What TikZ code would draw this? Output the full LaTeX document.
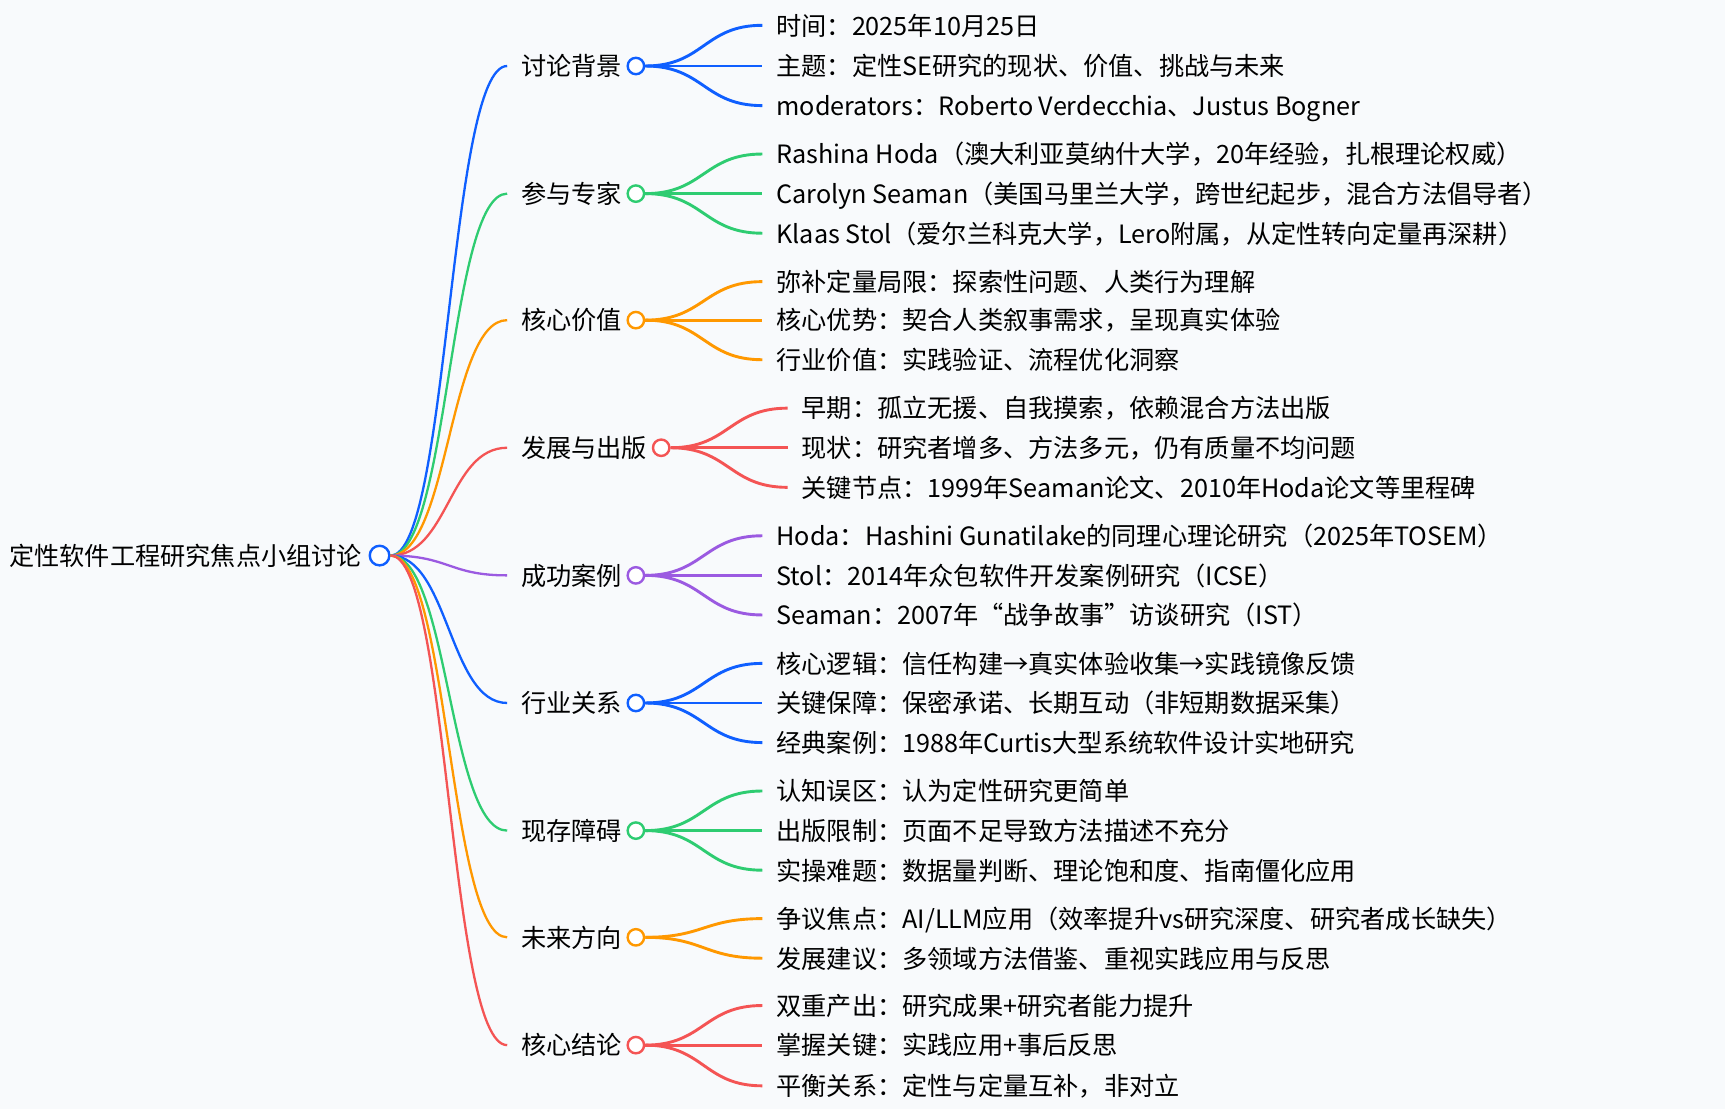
\documentclass[tikz,border=0pt]{standalone}
\usepackage{fontspec}
\setmainfont{Noto Sans CJK SC}
\usetikzlibrary{calc}

\definecolor{mblue}{RGB}{15,95,255}
\definecolor{mgreen}{RGB}{46,204,113}
\definecolor{morange}{RGB}{255,152,0}
\definecolor{mred}{RGB}{244,84,84}
\definecolor{mpurple}{RGB}{155,90,225}
\definecolor{canvas}{RGB}{248,250,252}

\begin{document}
\begin{tikzpicture}[
    x=0.55pt, y=-0.55pt,
    topic/.style={anchor=west, inner xsep=6.8pt, inner ysep=0pt, text height=1.0em, text depth=0.02em, font=\fontsize{12.6pt}{15pt}\selectfont},
    dot/.style={draw=#1, circle, fill=white, line width=1.2pt, minimum size=8.2pt, inner sep=0pt},
    rootdot/.style={draw=mblue, circle, fill=white, line width=1.2pt, minimum size=9.8pt, inner sep=0pt},
    link/.style={draw=#1, line width=1.15pt, to path={.. controls ($(\tikztostart)!.5!(\tikztotarget |- \tikztostart)$) and ($(\tikztotarget)!.5!(\tikztostart |- \tikztotarget)$) .. (\tikztotarget)}},
    sublink/.style={link=#1, line width=1.45pt}
]

% Canvas
\fill[canvas] (0,0) rectangle (1568,1008);
\useasboundingbox (0,0) rectangle (1568,1008);

% Root
\node[topic, inner xsep=0pt] (root) at (8,505) {定性软件工程研究焦点小组讨论};
\node[rootdot] (rootdot) at (345,505) {};

% Main topics
\node[topic] (bg) at (461,60) {讨论背景};
\node[topic] (exp) at (461,176) {参与专家};
\node[topic] (val) at (461,291) {核心价值};
\node[topic] (dev) at (461,407) {发展与出版};
\node[topic] (case) at (461,523) {成功案例};
\node[topic] (ind) at (461,639) {行业关系};
\node[topic] (bar) at (461,755) {现存障碍};
\node[topic] (fut) at (461,852) {未来方向};
\node[topic] (con) at (461,950) {核心结论};

% Discussion background
\node[topic] (bg1) at (693,23) {时间：2025年10月25日};
\node[topic] (bg2) at (693,60) {主题：定性SE研究的现状、价值、挑战与未来};
\node[topic] (bg3) at (693,96) {moderators：Roberto Verdecchia、Justus Bogner};

% Experts
\node[topic] (exp1) at (693,140) {Rashina Hoda（澳大利亚莫纳什大学，20年经验，扎根理论权威）};
\node[topic] (exp2) at (693,176) {Carolyn Seaman（美国马里兰大学，跨世纪起步，混合方法倡导者）};
\node[topic] (exp3) at (693,212) {Klaas Stol（爱尔兰科克大学，Lero附属，从定性转向定量再深耕）};

% Core value
\node[topic] (val1) at (693,256) {弥补定量局限：探索性问题、人类行为理解};
\node[topic] (val2) at (693,291) {核心优势：契合人类叙事需求，呈现真实体验};
\node[topic] (val3) at (693,327) {行业价值：实践验证、流程优化洞察};

% Development and publication
\node[topic] (dev1) at (716,371) {早期：孤立无援、自我摸索，依赖混合方法出版};
\node[topic] (dev2) at (716,407) {现状：研究者增多、方法多元，仍有质量不均问题};
\node[topic] (dev3) at (716,443) {关键节点：1999年Seaman论文、2010年Hoda论文等里程碑};

% Success cases
\node[topic] (case1) at (693,487) {Hoda：Hashini Gunatilake的同理心理论研究（2025年TOSEM）};
\node[topic] (case2) at (693,523) {Stol：2014年众包软件开发案例研究（ICSE）};
\node[topic] (case3) at (693,559) {Seaman：2007年“战争故事”访谈研究（IST）};

% Industry relations
\node[topic] (ind1) at (693,603) {核心逻辑：信任构建→真实体验收集→实践镜像反馈};
\node[topic] (ind2) at (693,639) {关键保障：保密承诺、长期互动（非短期数据采集）};
\node[topic] (ind3) at (693,675) {经典案例：1988年Curtis大型系统软件设计实地研究};

% Barriers
\node[topic] (bar1) at (693,719) {认知误区：认为定性研究更简单};
\node[topic] (bar2) at (693,755) {出版限制：页面不足导致方法描述不充分};
\node[topic] (bar3) at (693,791) {实操难题：数据量判断、理论饱和度、指南僵化应用};

% Future
\node[topic] (fut1) at (693,835) {争议焦点：AI/LLM应用（效率提升vs研究深度、研究者成长缺失）};
\node[topic] (fut2) at (693,871) {发展建议：多领域方法借鉴、重视实践应用与反思};

% Conclusions
\node[topic] (con1) at (693,914) {双重产出：研究成果+研究者能力提升};
\node[topic] (con2) at (693,950) {掌握关键：实践应用+事后反思};
\node[topic] (con3) at (693,987) {平衡关系：定性与定量互补，非对立};

% Links from the root
\draw[link=mblue] (rootdot.east) to (bg.west);
\draw[link=mgreen] (rootdot.east) to (exp.west);
\draw[link=morange] (rootdot.east) to (val.west);
\draw[link=mred] (rootdot.east) to (dev.west);
\draw[link=mpurple] (rootdot.east) to (case.west);
\draw[link=mblue] (rootdot.east) to (ind.west);
\draw[link=mgreen] (rootdot.east) to (bar.west);
\draw[link=morange] (rootdot.east) to (fut.west);
\draw[link=mred] (rootdot.east) to (con.west);

% Topic dots
\node[dot=mblue] (bgdot) at (578,60) {};
\node[dot=mgreen] (expdot) at (578,176) {};
\node[dot=morange] (valdot) at (578,291) {};
\node[dot=mred] (devdot) at (601,407) {};
\node[dot=mpurple] (casedot) at (578,523) {};
\node[dot=mblue] (inddot) at (578,639) {};
\node[dot=mgreen] (bardot) at (578,755) {};
\node[dot=morange] (futdot) at (578,852) {};
\node[dot=mred] (condot) at (578,950) {};

% Links to the details
\draw[sublink=mblue] (bgdot.east) to (bg1.west);
\draw[sublink=mblue] (bgdot.east) to (bg2.west);
\draw[sublink=mblue] (bgdot.east) to (bg3.west);
\draw[sublink=mgreen] (expdot.east) to (exp1.west);
\draw[sublink=mgreen] (expdot.east) to (exp2.west);
\draw[sublink=mgreen] (expdot.east) to (exp3.west);
\draw[sublink=morange] (valdot.east) to (val1.west);
\draw[sublink=morange] (valdot.east) to (val2.west);
\draw[sublink=morange] (valdot.east) to (val3.west);
\draw[sublink=mred] (devdot.east) to (dev1.west);
\draw[sublink=mred] (devdot.east) to (dev2.west);
\draw[sublink=mred] (devdot.east) to (dev3.west);
\draw[sublink=mpurple] (casedot.east) to (case1.west);
\draw[sublink=mpurple] (casedot.east) to (case2.west);
\draw[sublink=mpurple] (casedot.east) to (case3.west);
\draw[sublink=mblue] (inddot.east) to (ind1.west);
\draw[sublink=mblue] (inddot.east) to (ind2.west);
\draw[sublink=mblue] (inddot.east) to (ind3.west);
\draw[sublink=mgreen] (bardot.east) to (bar1.west);
\draw[sublink=mgreen] (bardot.east) to (bar2.west);
\draw[sublink=mgreen] (bardot.east) to (bar3.west);
\draw[sublink=morange] (futdot.east) to (fut1.west);
\draw[sublink=morange] (futdot.east) to (fut2.west);
\draw[sublink=mred] (condot.east) to (con1.west);
\draw[sublink=mred] (condot.east) to (con2.west);
\draw[sublink=mred] (condot.east) to (con3.west);

\end{tikzpicture}
\end{document}
